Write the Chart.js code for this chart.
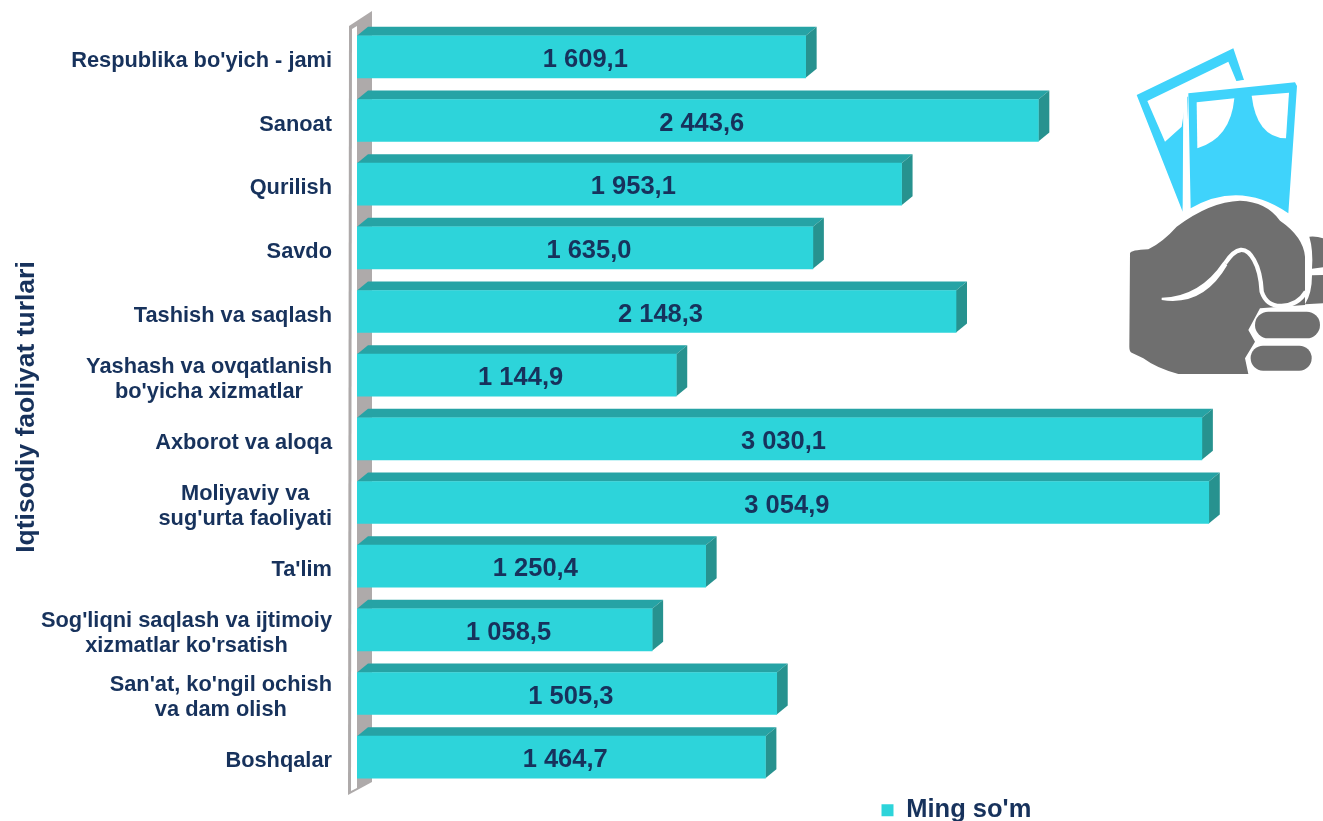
<!DOCTYPE html>
<html>
<head>
<meta charset="utf-8">
<title>Ming so'm</title>
<script src="https://cdn.jsdelivr.net/npm/chart.js@4"></script>
<style>
  html, body { margin: 0; padding: 0; background: #fff; overflow: hidden; }
  #wrap { position: relative; width: 1323px; height: 821px; }
  #icon { position: absolute; left: 1100px; top: 30px; }
</style>
</head>
<body>
<div id="wrap">
  <canvas id="chart" width="1323" height="821"></canvas>
  <!-- decorative money icon -->
  <svg id="icon" width="223" height="344" viewBox="0 0 669 1032">
    <path fill="#3fd3fb" d="M110 195 L400 55 L432 150 L265 185 L248 545 Z"/>
    <path fill="#fff" d="M142 213 L385 95 L410 155 L262 180 L245 290 L195 335 Z"/>
    <path fill="#fff" d="M250 175 L432 150 L432 190 L262 200 L258 545 L248 545 Z"/>
    <path fill="#3fd3fb" d="M265 190 L585 157 L591 168 L565 550 Q420 450 272 535 Z"/>
    <path fill="#fff" d="M290 217 L403 205 Q392 325 292 355 Z"/>
    <path fill="#fff" d="M455 197 L567 188 L558 325 Q470 322 455 197 Z"/>
    <path fill="#6f6f6f" d="M90 670 Q92 660 145 658 Q190 635 230 590 Q330 515 420 512 Q500 515 540 572 Q610 620 615 680 L615 825 L480 835 L445 900 L465 935 L435 985 L445 1032 L235 1032 Q170 1015 130 985 L95 968 Q88 965 88 950 Z"/>
    <path fill="none" stroke="#fff" stroke-width="13" d="M375 700 Q425 625 462 690 Q482 725 485 785 Q500 830 545 828 Q595 825 618 785"/>
    <path fill="#fff" d="M185 803 Q300 800 370 695 L382 705 Q310 830 185 810 Z"/>
    <path fill="#6f6f6f" d="M628 620 Q650 618 669 625 L669 712 L636 716 Q640 660 628 620 Z"/>
    <path fill="#6f6f6f" d="M636 736 L669 735 L669 820 L615 823 Q636 790 636 736 Z"/>
    <rect x="465" y="845" width="195" height="80" rx="40" fill="#6f6f6f"/>
    <rect x="452" y="947" width="183" height="75" rx="37" fill="#6f6f6f"/>
  </svg>
</div>
<script>
const categories = [
  ["Respublika bo'yich - jami"],
  ["Sanoat"],
  ["Qurilish"],
  ["Savdo"],
  ["Tashish va saqlash"],
  ["Yashash va ovqatlanish", "bo'yicha xizmatlar"],
  ["Axborot va aloqa"],
  ["Moliyaviy va", "sug'urta faoliyati"],
  ["Ta'lim"],
  ["Sog'liqni saqlash va ijtimoiy", "xizmatlar ko'rsatish"],
  ["San'at, ko'ngil ochish", "va dam olish"],
  ["Boshqalar"]
];
const wages = [1609.1, 2443.6, 1953.1, 1635.0, 2148.3, 1144.9, 3030.1, 3054.9, 1250.4, 1058.5, 1505.3, 1464.7];
const seriesName = "Ming so'm";
const axisTitle = 'Iqtisodiy faoliyat turlari';

const NAVY = '#17325c';
const FONT = '"Liberation Sans", Arial, sans-serif';
const DEPTH_X = 11;
const DEPTH_Y = 9;

// 1 609,1 style numbers
function formatValue(v) {
  const parts = v.toFixed(1).split('.');
  return parts[0].replace(/\B(?=(\d{3})+$)/g, ' ') + ',' + parts[1];
}

function poly(ctx, pts, color) {
  ctx.fillStyle = color;
  ctx.beginPath();
  pts.forEach((p, i) => i ? ctx.lineTo(p[0], p[1]) : ctx.moveTo(p[0], p[1]));
  ctx.closePath();
  ctx.fill();
}

// Fake 3D: grey wall behind the bars, top and side faces of every bar
const depthPlugin = {
  id: 'depth',
  beforeDatasetsDraw(chart) {
    const { ctx, chartArea } = chart;
    const left = chartArea.left;
    const top = chartArea.top;
    const bottom = chartArea.bottom;
    ctx.save();
    poly(ctx, [[left - 8, top + 1], [left + 15, top - 14], [left + 15, bottom - 7], [left - 9, bottom + 6]], '#aeaaaa');
    poly(ctx, [[left - 5, top + 4], [left, top + 1], [left, bottom - 1], [left - 6, bottom + 2]], '#ffffff');
    chart.getDatasetMeta(0).data.forEach(bar => {
      const h = bar.height / 2;
      poly(ctx, [[bar.base, bar.y - h], [bar.base + DEPTH_X, bar.y - h - DEPTH_Y], [bar.x + DEPTH_X, bar.y - h - DEPTH_Y], [bar.x, bar.y - h]], '#26a3a5');
      poly(ctx, [[bar.x, bar.y - h], [bar.x + DEPTH_X, bar.y - h - DEPTH_Y], [bar.x + DEPTH_X, bar.y + h - DEPTH_Y], [bar.x, bar.y + h]], '#27928f');
    });
    ctx.restore();
  },
  // value labels in the middle of the bars, category labels left of the wall
  afterDatasetsDraw(chart) {
    const { ctx } = chart;
    const yScale = chart.scales.y;
    ctx.save();
    ctx.fillStyle = NAVY;
    ctx.textBaseline = 'middle';
    ctx.textAlign = 'center';
    ctx.font = 'bold 25.5px ' + FONT;
    chart.getDatasetMeta(0).data.forEach((bar, i) => {
      ctx.fillText(formatValue(wages[i]), (bar.base + bar.x) / 2 + 4, bar.y + 3);
    });
    ctx.font = 'bold 21.8px ' + FONT;
    categories.forEach((lines, i) => {
      const y = yScale.getPixelForTick(i) + 4;
      const widest = Math.max(...lines.map(l => ctx.measureText(l).width));
      const cx = 332 - widest / 2;
      lines.forEach((line, k) => {
        ctx.fillText(line, cx, y + (k - (lines.length - 1) / 2) * 25);
      });
    });
    ctx.restore();
  },
  afterLayout(chart) {
    // legend sits under the right half of the plot, a little lower than its box
    chart.legend.left = 881;
    chart.legend.right = 1060;
    chart.legend.top += 8;
    chart.legend.bottom += 8;
  }
};

new Chart(document.getElementById('chart'), {
  type: 'bar',
  data: {
    labels: categories,
    datasets: [{
      label: seriesName,
      data: wages,
      backgroundColor: '#2dd4da',
      barThickness: 42
    }]
  },
  plugins: [depthPlugin],
  options: {
    indexAxis: 'y',
    responsive: false,
    animation: false,
    layout: { padding: { top: 25, right: 18, bottom: -4, left: 0 } },
    plugins: {
      tooltip: { enabled: false },
      legend: {
        position: 'bottom',
        align: 'start',
        labels: {
          boxWidth: 12,
          boxHeight: 12,
          padding: 0.5,
          color: NAVY,
          font: { family: FONT, size: 25.5, weight: 'bold' }
        }
      }
    },
    scales: {
      x: { display: false, min: 0, max: 3400, grid: { display: false } },
      y: {
        grid: { display: false },
        border: { display: false },
        ticks: { display: false },
        afterFit(scale) { scale.width = 357; },
        title: {
          display: true,
          text: axisTitle,
          color: NAVY,
          padding: { top: 11, bottom: 0 },
          font: { family: FONT, size: 26.5, weight: 'bold' }
        }
      }
    }
  }
});
</script>
</body>
</html>
